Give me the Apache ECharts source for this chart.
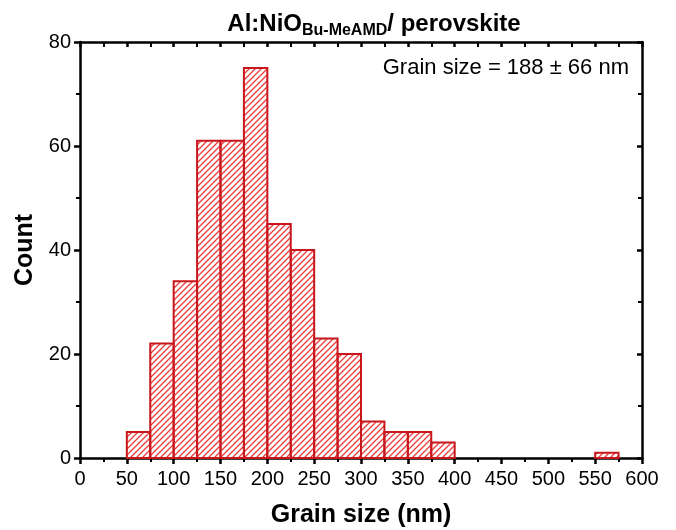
<!DOCTYPE html>
<html>
<head>
<meta charset="utf-8">
<script src="https://cdn.jsdelivr.net/npm/echarts@6/dist/echarts.min.js"></script>
<style>
  html, body { margin: 0; padding: 0; background: #fff; }
  #chart { width: 676px; height: 530px; }
</style>
</head>
<body>
<div id="chart"></div>
<script>
// Histogram bins (lower edge, nm) and counts; each bin is 25 nm wide
const binStarts = [50, 75, 100, 125, 150, 175, 200, 225, 250, 275, 300, 325, 350, 375, 550];
const binWidth = 25;
const counts = [5, 22, 34, 61, 61, 75, 45, 40, 23, 20, 7, 5, 5, 3, 1];
const xTicks = [0, 50, 100, 150, 200, 250, 300, 350, 400, 450, 500, 550, 600];
const yTicks = [0, 20, 40, 60, 80];

// Diagonal hatch fill
function makeHatch() {
  const s = 6;
  const c = document.createElement('canvas');
  c.width = s; c.height = s;
  const g = c.getContext('2d');
  g.strokeStyle = '#ec3c3c';
  g.lineWidth = 1.3;
  g.beginPath();
  g.moveTo(0, s); g.lineTo(s, 0);
  g.moveTo(-1, 1); g.lineTo(1, -1);
  g.moveTo(s - 1, s + 1); g.lineTo(s + 1, s - 1);
  g.stroke();
  return c;
}

const chart = echarts.init(document.getElementById('chart'), null, { renderer: 'canvas' });
const font = 'Liberation Sans, Arial, Helvetica, sans-serif';
const hatch = makeHatch();

const bars = binStarts.map((b, i) => [b, b + binWidth, counts[i]]);

const axisLine = { show: true, onZero: false, lineStyle: { color: '#000', width: 2.5 } };

chart.setOption({
  animation: false,
  backgroundColor: '#fff',
  title: [
    {
      text: '{a|Al:NiO}{b|Bu-MeAMD}{a|/ perovskite}',
      left: 369, top: 4, textAlign: 'center',
      textStyle: {
        rich: {
          a: { fontFamily: font, fontWeight: 'bold', fontSize: 24, color: '#000', lineHeight: 30 },
          b: { fontFamily: font, fontWeight: 'bold', fontSize: 16, color: '#000', lineHeight: 30, padding: [14, 0, 0, 0] }
        }
      }
    },
    {
      text: 'Grain size = 188 \u00b1 66 nm',
      right: 42, top: 52,
      textStyle: { fontFamily: font, fontWeight: 'normal', fontSize: 22, color: '#000' }
    }
  ],
  grid: { left: 80, right: 34, top: 42, bottom: 72, containLabel: false, outerBoundsMode: 'none' },
  xAxis: [
    {
      type: 'value', min: 0, max: 600, interval: 50, position: 'bottom',
      name: 'Grain size (nm)', nameLocation: 'middle', nameGap: 45,
      nameTextStyle: { fontFamily: font, fontWeight: 'bold', fontSize: 25, color: '#000' },
      axisLine: axisLine,
      axisTick: { show: true, inside: false, length: 6, lineStyle: { color: '#000', width: 2.5 } },
      minorTick: { show: true, splitNumber: 2, length: 4, lineStyle: { color: '#000', width: 2 } },
      axisLabel: {
        fontFamily: font, fontSize: 20, color: '#000', margin: 11,
        formatter: v => (xTicks.includes(v) ? String(v) : '')
      },
      splitLine: { show: false }
    },
    {
      type: 'value', min: 0, max: 600, interval: 50, position: 'top',
      axisLine: axisLine,
      axisTick: { show: true, inside: true, length: 5, lineStyle: { color: '#000', width: 2.5 } },
      minorTick: { show: true, splitNumber: 2, length: 5, lineStyle: { color: '#000', width: 2 } },
      axisLabel: { show: false },
      splitLine: { show: false }
    }
  ],
  yAxis: [
    {
      type: 'value', min: 0, max: 80, interval: 20, position: 'left',
      name: 'Count', nameLocation: 'middle', nameGap: 33,
      nameTextStyle: { fontFamily: font, fontWeight: 'bold', fontSize: 25, color: '#000' },
      axisLine: axisLine,
      axisTick: { show: true, inside: false, length: 6, lineStyle: { color: '#000', width: 2.5 } },
      minorTick: { show: true, splitNumber: 2, length: 4, lineStyle: { color: '#000', width: 2 } },
      axisLabel: {
        fontFamily: font, fontSize: 20, color: '#000', margin: 9,
        formatter: v => (yTicks.includes(v) ? String(v) : '')
      },
      splitLine: { show: false }
    },
    {
      type: 'value', min: 0, max: 80, interval: 20, position: 'right',
      axisLine: axisLine,
      axisTick: { show: true, inside: true, length: 5, lineStyle: { color: '#000', width: 2.5 } },
      minorTick: { show: true, splitNumber: 2, length: 4, lineStyle: { color: '#000', width: 2 } },
      axisLabel: { show: false },
      splitLine: { show: false }
    }
  ],
  series: [
    {
      type: 'custom',
      xAxisIndex: 0, yAxisIndex: 0,
      data: bars,
      encode: { x: [0, 1], y: 2 },
      renderItem: function (params, api) {
        const p0 = api.coord([api.value(0), api.value(2)]);
        const p1 = api.coord([api.value(1), 0]);
        return {
          type: 'rect',
          shape: { x: p0[0], y: p0[1], width: p1[0] - p0[0], height: p1[1] - p0[1] },
          style: {
            fill: { image: hatch, repeat: 'repeat' },
            stroke: '#c8161d',
            lineWidth: 2
          }
        };
      },
      z: 1
    }
  ]
});
</script>
</body>
</html>
